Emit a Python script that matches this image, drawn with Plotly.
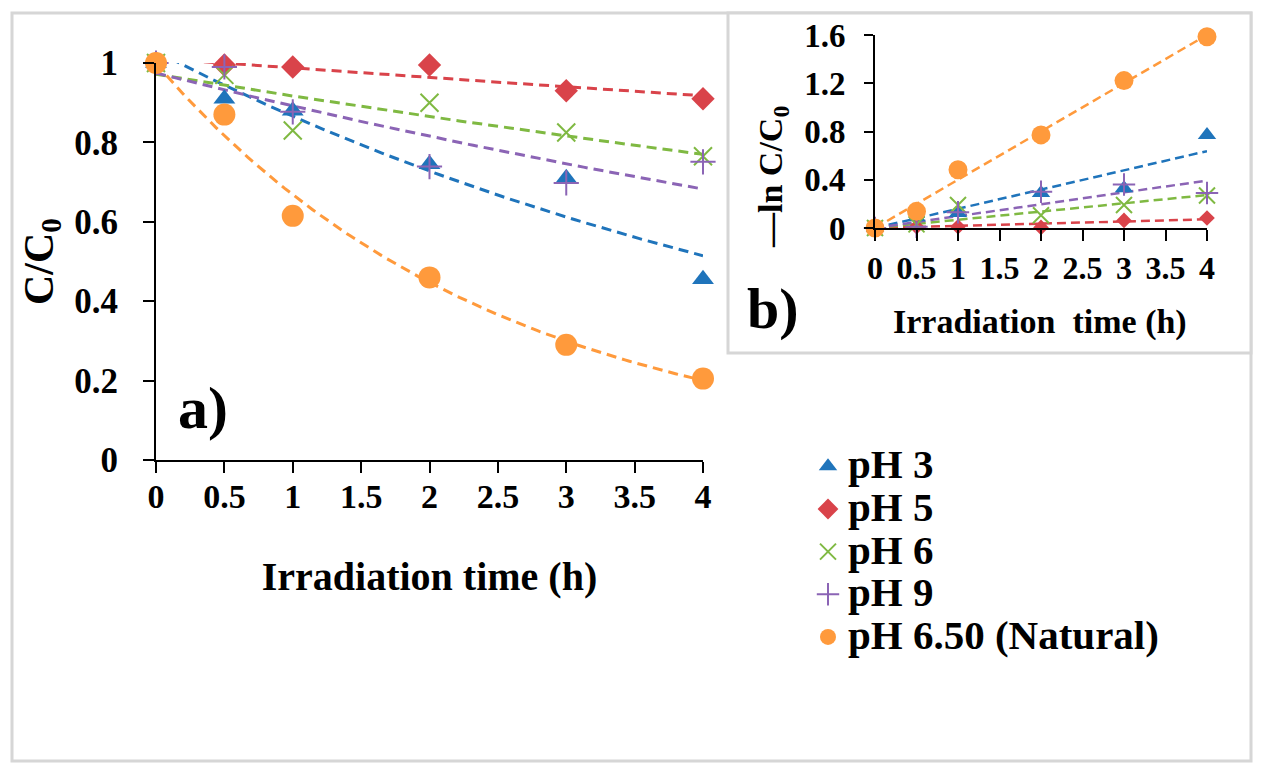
import numpy as np
import plotly.graph_objects as go

# irradiation time (h)
time_h = [0, 0.5, 1, 2, 3, 4]

# panel a) C/C0
ph3 = [1.0, 0.91, 0.88, 0.745, 0.71, 0.455]
ph5 = [1.0, 0.995, 0.99, 0.995, 0.93, 0.91]
ph6 = [1.0, 0.97, 0.83, 0.90, 0.825, 0.765]
ph9 = [1.0, 0.99, 0.877, 0.739, 0.698, 0.751]
ph_nat = [1.0, 0.87, 0.615, 0.46, 0.29, 0.205]

# panel b) -ln C/C0
ln_ph3 = [0, 0.09, 0.124, 0.29, 0.33, 0.77]
ln_ph5 = [0, 0.01, 0.01, 0.005, 0.063, 0.083]
ln_ph6 = [0, 0.03, 0.19, 0.105, 0.19, 0.27]
ln_ph9 = [0, 0.01, 0.13, 0.30, 0.36, 0.29]
ln_nat = [0, 0.138, 0.483, 0.772, 1.222, 1.586]

names = ["pH 3", "pH 5", "pH 6", "pH 9", "pH 6.50 (Natural)"]
colors = ["#1f74bb", "#d9434a", "#7fb942", "#8b64b5", "#ff9a3c"]
symbols = ["triangle-up", "diamond", "x-thin-open", "cross-thin-open", "circle"]

series_a = [ph3, ph5, ph6, ph9, ph_nat]
series_b = [ln_ph3, ln_ph5, ln_ph6, ln_ph9, ln_nat]

FONT = "Liberation Serif"

fig = go.Figure()
t = np.array(time_h)
tt = np.linspace(0, 4, 120)

# trendlines first so the markers sit on top
for vals, col in zip(series_a, colors):
    b, a = np.polyfit(t, np.log(vals), 1)   # exponential trendline, like excel
    fig.add_trace(go.Scatter(x=tt, y=np.exp(a + b * tt), mode="lines",
                             line=dict(color=col, width=3, dash="10px,6px"),
                             showlegend=False, hoverinfo="skip"))
for vals, col in zip(series_b, colors):
    k = np.sum(t * np.array(vals)) / np.sum(t * t)   # linear through origin
    fig.add_trace(go.Scatter(x=[0, 4], y=[0, 4 * k], mode="lines",
                             xaxis="x2", yaxis="y2",
                             line=dict(color=col, width=2.5, dash="9px,5px"),
                             showlegend=False, hoverinfo="skip"))

sizes_a = [19, 18, 18, 18, 22]
sizes_b = [16, 12, 16, 16, 19]
for vals, name, col, sym, s in zip(series_a, names, colors, symbols, sizes_a):
    thin = "thin" in sym
    fig.add_trace(go.Scatter(
        x=time_h, y=vals, mode="markers", cliponaxis=False,
        name="<span style='font-size:41px'>" + name + "</span>",
        marker=dict(symbol=sym, size=s, color=col,
                    line=dict(color=col, width=2 if thin else 0))))
for vals, col, sym, s in zip(series_b, colors, symbols, sizes_b):
    thin = "thin" in sym
    fig.add_trace(go.Scatter(
        x=time_h, y=vals, mode="markers", xaxis="x2", yaxis="y2",
        cliponaxis=False, showlegend=False,
        marker=dict(symbol=sym, size=s, color=col,
                    line=dict(color=col, width=2 if thin else 0))))

W, H = 1266, 777
OFF = 8  # the page body adds 8px around the figure

def px(x):
    return (x - OFF) / W

def py(y):
    return 1 - (y - OFF) / H

axis_common = dict(showline=True, linecolor="black", linewidth=2,
                   ticks="outside", tickcolor="black", tickwidth=2,
                   showgrid=False, zeroline=False, color="black",
                   automargin=False)

fig.update_layout(
    width=W, height=H,
    margin=dict(l=0, r=0, t=0, b=0, pad=0),
    paper_bgcolor="white", plot_bgcolor="rgba(0,0,0,0)",
    font=dict(family=FONT, color="black"),
    xaxis=dict(axis_common, domain=[px(156), px(703)], range=[0, 4], dtick=0.5,
               ticklen=11, ticklabelstandoff=-6,
               tickfont=dict(size=34, family=FONT, weight="bold"),
               title=dict(text="<b>Irradiation time (h)</b>", standoff=48,
                          font=dict(size=40, family=FONT))),
    yaxis=dict(axis_common, domain=[py(460), py(63)], range=[0, 1], dtick=0.2,
               ticklen=11, ticklabelstandoff=18,
               tickfont=dict(size=35, family=FONT, weight="bold"),
               title=dict(text="<b>C/C<sub>0</sub></b>", standoff=8,
                          font=dict(size=42, family=FONT))),
    xaxis2=dict(axis_common, domain=[px(875), px(1207)], range=[0, 4], dtick=0.5,
                anchor="y2", ticklen=11, ticklabelstandoff=0,
                tickfont=dict(size=32, family=FONT, weight="bold")),
    yaxis2=dict(axis_common, domain=[py(228), py(35)], range=[0, 1.6], dtick=0.4,
                anchor="x2", ticklen=9, ticklabelstandoff=12,
                tickfont=dict(size=33, family=FONT, weight="bold")),
    legend=dict(x=px(808), y=py(440), xanchor="left", yanchor="top",
                bgcolor="rgba(0,0,0,0)", tracegroupgap=0,
                font=dict(size=30.5, family=FONT, weight="bold")),
    showlegend=True,
)

def note(text, x, y, size, angle=0):
    return dict(text=text, x=px(x), y=py(y), xref="paper", yref="paper",
                xanchor="center", yanchor="middle", showarrow=False,
                textangle=angle, font=dict(size=size, family=FONT))

fig.update_layout(
    shapes=[
        dict(type="rect", xref="paper", yref="paper", layer="below",
             x0=px(12), x1=px(1251), y0=py(761), y1=py(13),
             line=dict(color="#d6d6d6", width=3), fillcolor="white"),
        dict(type="rect", xref="paper", yref="paper", layer="below",
             x0=px(728), x1=px(1251), y0=py(353), y1=py(13),
             line=dict(color="#d6d6d6", width=3), fillcolor="white"),
    ],
    annotations=[
        note("<b>a)</b>", 203, 408, 60),
        note("<b>b)</b>", 773, 308, 58),
        note("<b>Irradiation  time (h)</b>", 1040, 322, 34),
        note("<b>—ln C/C<sub>0</sub></b>", 773, 177, 34, angle=-90),
    ],
)

fig.write_html("out.html")
